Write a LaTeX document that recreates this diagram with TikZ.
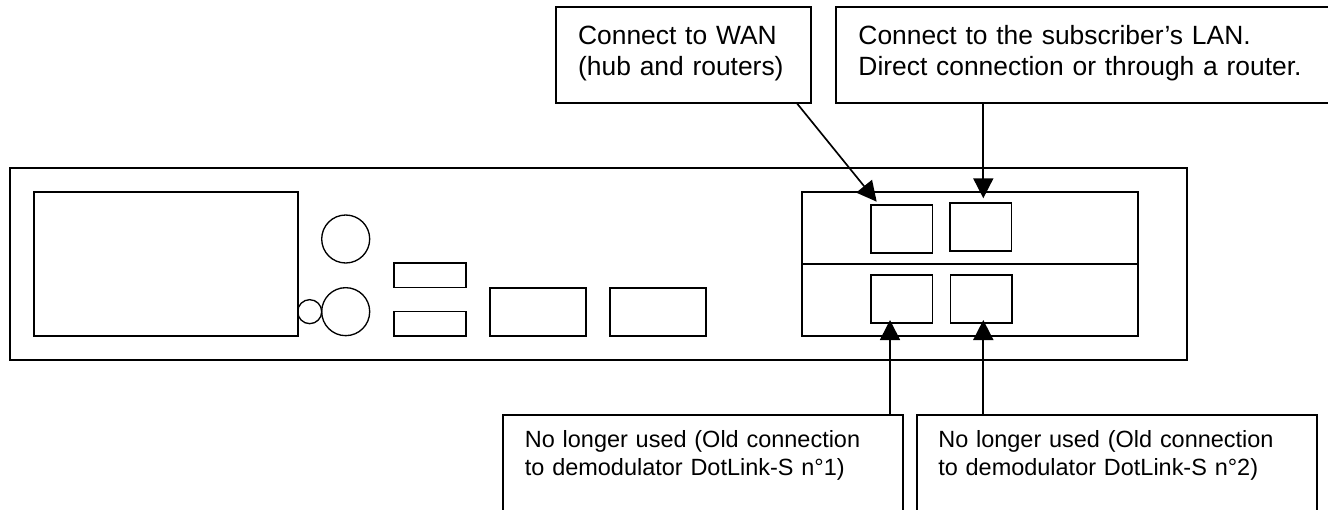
\documentclass[tikz,border=0pt]{standalone}
\usepackage{fontspec}
\setmainfont{Liberation Sans}
\usetikzlibrary{
	arrows.meta,
	calc,
	positioning
}

\begin{document}
\begin{tikzpicture} [
		x = 0.75pt,
		y = -0.75pt,
		part/.style = {
			draw,
			line width = 1.25pt,
			rectangle,
			inner sep = 0pt,
			outer sep = 0pt,
		},
		round-part/.style = {
			part,
			circle,
			line width = 1pt,
			minimum size = 36pt,
		},
		small-slot/.style = {
			part,
			minimum width = 54.2pt,
			minimum height = 18.2pt,
		},
		wide-slot/.style = {
			part,
			minimum width = 72pt,
			minimum height = 36pt,
		},
		port/.style = {
			part,
			minimum width = 46pt,
			minimum height = 36pt,
		},
		note-top/.style = {
			part,
			anchor = north west,
			align = left,
			inner xsep = 16.6pt,
			minimum height = 72pt,
			text depth = 30pt,
			font = \fontsize{19.8}{23.25}\selectfont,
		},
		note-bottom/.style = {
			part,
			anchor = north west,
			align = left,
			inner xsep = 16.2pt,
			text width = 267.6pt,
			minimum height = 86.25pt,
			text depth = 50pt,
			font = \fontsize{17.6}{21}\selectfont,
		},
		line/.style = {
			draw,
			line width = 1.25pt,
			-{Triangle[length = 15pt, width = 15pt]},
		}
	]

	\clip[use as bounding box] (0, 0) rectangle (1328, 510);

	\node[part, anchor = north west, minimum width = 882.5pt, minimum height = 144pt] (case) at (10, 167.7) {};
	\node[part, below right = 18.2pt and 17.8pt of case.north west, minimum width = 198.2pt, minimum height = 107.8pt] (display) {};

	\node[round-part] (knoba) at (345.7, 239) {};
	\node[round-part, below = 18.5pt of knoba] (knobb) {};
	\node[part, circle, line width = 1pt, minimum size = 18pt, left = 0pt of knobb] (led) {};

	\node[small-slot, anchor = north west] (slota) at (393.7, 263.3) {};
	\node[small-slot, below = 18pt of slota] (slotb) {};
	\node[wide-slot, anchor = north west] (widea) at (490, 287.7) {};
	\node[wide-slot, right = 18pt of widea] (wideb) {};

	\node[part, anchor = north west, minimum width = 251.8pt, minimum height = 107.8pt] (card) at (802.3, 192) {};
	\draw[line width = 1pt] (card.west) -- (card.east);

	\node[port, anchor = north west] (wanport) at (871, 204.7) {};
	\node[port, anchor = north west] (lanport) at (950.3, 203) {};
	\node[port, anchor = north west] (demoda) at (871.3, 274.7) {};
	\node[port, right = 13.5pt of demoda] (demodb) {};

	\node[note-top, text width = 157.8pt] (wan) at (556, 7) {
		Connect to WAN\\
		(hub and routers)
	};
	\node[note-top, text width = 341.8pt] (lan) at (836.3, 7) {
		Connect to the subscriber's LAN.\\
		Direct connection or through a router.
	};
	\node[note-bottom] (olda) at (503.3, 415.3) {
		No longer used (Old connection\\
		to demodulator DotLink-S n°1)
	};
	\node[note-bottom] (oldb) at (916.7, 415.3) {
		No longer used (Old connection\\
		to demodulator DotLink-S n°2)
	};

	\coordinate (wantip) at (876.7, 201.7);
	\coordinate (lantip) at (983.3, 198.3);
	\coordinate (demodatip) at (890, 320);
	\coordinate (demodbtip) at (983.3, 320);

	\begin{scope} [
			every path/.style = line
		]
		\path ($(wan.south east) + (-14, 0)$) -- (wantip);
		\path (lan.south -| lantip) -- (lantip);
		\path (olda.north -| demodatip) -- (demodatip);
		\path (oldb.north -| demodbtip) -- (demodbtip);
	\end{scope}
\end{tikzpicture}
\end{document}
